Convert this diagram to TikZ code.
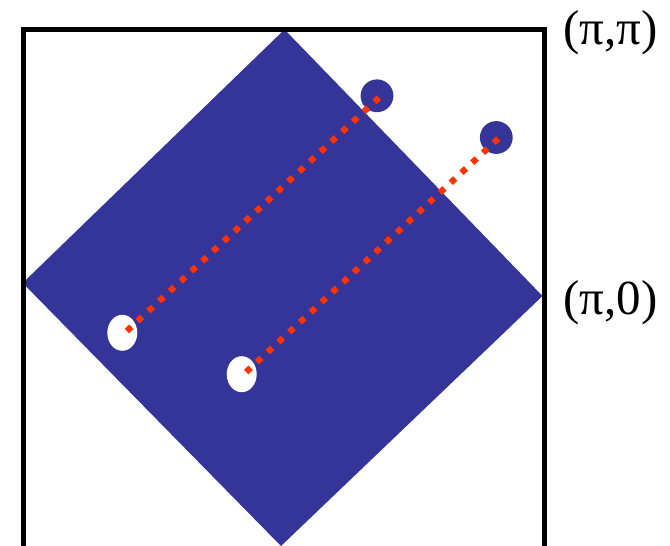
\documentclass[tikz,border=0pt]{standalone}
\usepackage{fontspec}
\setmainfont{Liberation Serif}
\usetikzlibrary{shapes.geometric}
\definecolor{zoneblue}{RGB}{53,52,152}
\definecolor{dotred}{RGB}{255,51,0}
\begin{document}
\begin{tikzpicture}[x=1pt,y=-1pt,
  bluedot/.style={circle,fill=zoneblue,draw=none,minimum size=32.8pt,inner sep=0pt},
  hole/.style={ellipse,fill=white,draw=none,minimum width=30pt,minimum height=36pt,inner sep=0pt},
  reddots/.style={draw=dotred,line width=6.2pt,line cap=butt,dash pattern=on 6.2pt off 8.47pt,shorten <=-3.1pt,shorten >=-3.1pt},
  lbl/.style={anchor=base west,inner sep=0pt,font=\fontsize{49pt}{56pt}\selectfont}]
\useasboundingbox (0,0) rectangle (670,546);
% diamond
\coordinate (dt) at (284.5,29.5);
\coordinate (dr) at (542.5,296);
\coordinate (db) at (281,546);
\coordinate (dl) at (22.7,283);
\fill[zoneblue] (dt) -- (dr) -- (db) -- (dl) -- cycle;
% frame
\draw[line width=5pt] (23.5,29.8) rectangle (544.2,548);
% pockets
\node[bluedot] (c1) at (377,95.8) {};
\node[bluedot] (c2) at (496.3,137.5) {};
\node[hole] (h1) at (122.3,332.8) {};
\node[hole] (h2) at (241.7,374.2) {};
% nesting vectors
\coordinate (a1) at (376.7,99.7);
\coordinate (b1) at (129,329);
\coordinate (a2) at (496,140.7);
\coordinate (b2) at (248.3,370);
\draw[reddots] (a1) -- (b1);
\draw[reddots] (a2) -- (b2);
% labels
\node[lbl] (lpp) at (563,44) {(π,π)};
\node[lbl] (lp0) at (563,314) {(π,0)};
\end{tikzpicture}
\end{document}
